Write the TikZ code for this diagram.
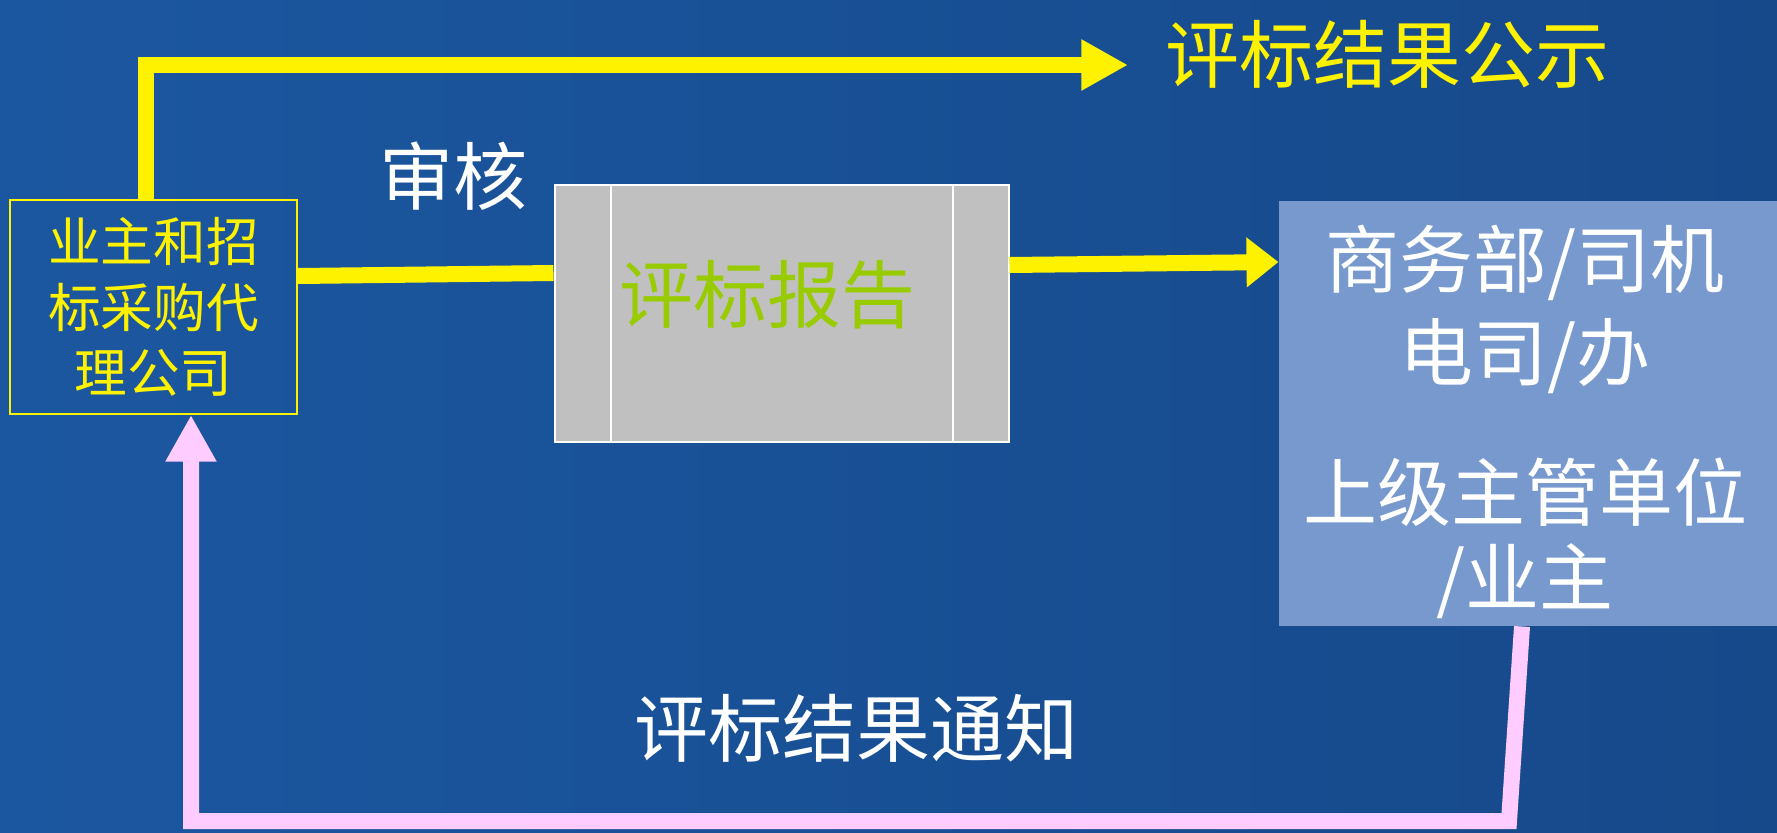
\documentclass[tikz,border=0pt]{standalone}
\usepackage{fontspec}
\newfontfamily\cjk{Noto Sans CJK SC}
\usetikzlibrary{arrows.meta,calc}

\definecolor{bgleft}{HTML}{1B57A0}
\definecolor{bgmid}{HTML}{0F3C75}
\definecolor{bgright}{HTML}{16498A}
\definecolor{repgray}{HTML}{C0C0C0}
\definecolor{repgreen}{HTML}{99CC00}
\definecolor{supblue}{HTML}{7799CE}
\definecolor{notepink}{HTML}{FFCCFF}

\tikzset{every picture/.style={line width=0.75pt}}

\begin{document}
\begin{tikzpicture}[x=0.75pt,y=0.75pt,yscale=-1,
  bigfont/.style={font=\cjk\fontsize{55.5pt}{70pt}\selectfont},
  whitetext/.style={bigfont, text=white, inner sep=0pt, align=center},
  yeltext/.style={bigfont, text=yellow, inner sep=0pt},
  agentbox/.style={draw=yellow, line width=1.5pt, text=yellow, align=center, inner sep=0pt,
    minimum width=215pt, minimum height=160.5pt, font=\cjk\fontsize{39.5pt}{49pt}\selectfont},
  repbox/.style={fill=repgray, draw=white, line width=1.5pt, minimum width=340.5pt, minimum height=192.75pt},
  supbox/.style={fill=supblue, inner sep=0pt, minimum width=373.5pt, minimum height=318.75pt},
  yelline/.style={draw=yellow, line width=12pt},
  pinkline/.style={draw=notepink, line width=12pt},
  bigtip/.style={-{Triangle[length=35pt,width=36pt]}},
  midtip/.style={-{Triangle[length=24pt,width=36pt]}}]
\useasboundingbox (0,0) rectangle (1777,832);

%Background
\shade[left color=bgleft, middle color=bgmid, right color=bgright] (0,0) rectangle (1777,832);

%Shape: Rectangle [agent]
\node[agentbox] (agent) at (153.5,307) {业主和招\\标采购代\\理公司};
%Shape: Rectangle [report]
\node[repbox] (report) at (781.5,313.5) {};
\draw[white, line width=1.5pt] ($(report.north west)+(57,0)$) -- ($(report.south west)+(57,0)$);
\draw[white, line width=1.5pt] ($(report.north east)+(-57,0)$) -- ($(report.south east)+(-57,0)$);
%Shape: Rectangle [superior]
\node[supbox] (sup) at (1528,413.5) {};

% Text Node
\node[yeltext] (publish) at (1387,54) {评标结果公示};
% Text Node
\node[whitetext] (audit) at (453,176) {审核};
% Text Node
\node[bigfont, text=repgreen, inner sep=0pt] (reptext) at (767,295) {评标报告};
% Text Node
\node[whitetext] (suptop) at (1525,309.5) {商务部/司机\\电司/办};
% Text Node
\node[whitetext, font=\cjk\fontsize{55.5pt}{64pt}\selectfont] (supbot) at (1525,538.5) {上级主管单位\\/业主};
% Text Node
\node[whitetext] (notice) at (856,728) {评标结果通知};

\coordinate (pubtip) at (1128,65);
\coordinate (nbr) at (1509,821);

%Straight Lines
\draw[yelline, bigtip] ($(agent.north)+(-7.5,0)$) |- (pubtip);
\draw[yelline] ($(agent.east)+(0,-31)$) -- ($(report.west)+(0,-40.5)$);
\draw[yelline, midtip] ($(report.east)+(0,-48.5)$) -- ($(sup.west)+(0,-151.5)$);
\draw[pinkline, bigtip] ($(sup.south)+(-6,0)$) -- (nbr) -| ($(agent.south)+(37.5,0)$);

\end{tikzpicture}
\end{document}
